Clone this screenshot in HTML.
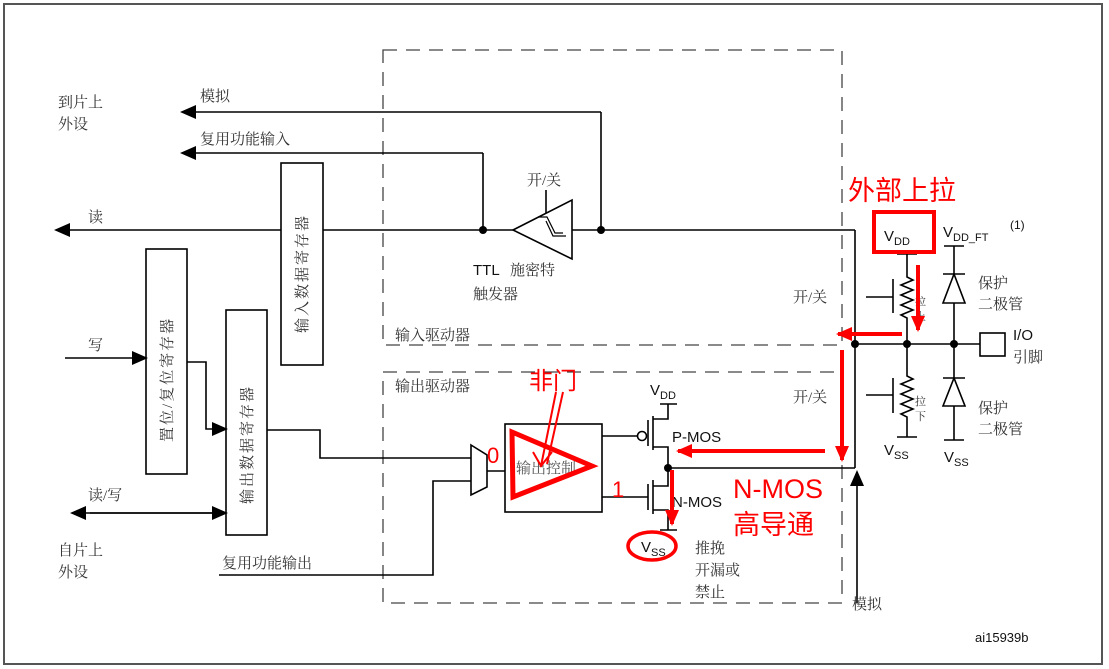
<!DOCTYPE html>
<html><head><meta charset="utf-8"><style>
html,body{margin:0;padding:0;background:#fff;}
svg{display:block;}
text{font-family:"Liberation Sans","Noto Sans CJK SC",sans-serif;}
.cn{font-family:"Liberation Serif","Noto Serif CJK SC",serif;font-size:15px;fill:#333;}
.lb{font-size:15px;fill:#111;}
.rd{font-family:"Liberation Sans","Noto Sans CJK SC",sans-serif;fill:#f00;}
</style></head><body>
<svg width="1109" height="669" viewBox="0 0 1109 669" xmlns="http://www.w3.org/2000/svg">
<defs>
<marker id="ah" markerWidth="10" markerHeight="10" refX="9" refY="5" orient="auto" markerUnits="userSpaceOnUse"><path d="M0,0 L10,5 L0,10 Z" fill="#000"/></marker>
<marker id="ahl" markerWidth="16" markerHeight="14" refX="14" refY="7" orient="auto" markerUnits="userSpaceOnUse"><path d="M0,0 L16,7 L0,14 Z" fill="#000"/></marker>
<marker id="ra" markerWidth="16" markerHeight="14" refX="14" refY="7" orient="auto" markerUnits="userSpaceOnUse"><path d="M0,0 L16,7 L0,14 Z" fill="#f00"/></marker>
</defs>
<rect x="4" y="4" width="1098" height="660" fill="none" stroke="#555" stroke-width="2"/>

<g fill="none" stroke="#444" stroke-width="1.3" stroke-dasharray="14,9">
<path d="M383,50 H842 V345 H383 Z"/>
<path d="M383,372 H842 V603 H383 Z"/>
</g>

<g stroke="#000" stroke-width="1.6" fill="none">
<line x1="601" y1="112" x2="182" y2="112" marker-end="url(#ahl)"/>
<line x1="601" y1="112" x2="601" y2="230"/>
<line x1="483" y1="153" x2="182" y2="153" marker-end="url(#ahl)"/>
<line x1="483" y1="153" x2="483" y2="230"/>
<line x1="855" y1="230" x2="572" y2="230"/>
<line x1="513" y1="230" x2="56" y2="230" marker-end="url(#ahl)"/>
<line x1="855" y1="230" x2="855" y2="468"/>
<path d="M513,230 L572,200 L572,259 Z" fill="#fff"/>
<line x1="546" y1="190" x2="546" y2="213"/>
<path d="M538,217 L547,217 L555,233 L563,233" stroke-width="1.2"/>
<path d="M546,221 L553,236 L566,236" stroke-width="1.2"/>
<rect x="281" y="163" width="42" height="202" fill="#fff"/>
<rect x="146" y="249" width="41" height="225" fill="#fff"/>
<rect x="226" y="310" width="41" height="225" fill="#fff"/>
<line x1="65" y1="358" x2="146" y2="358" marker-end="url(#ahl)"/>
<path d="M187,362 H206 V429 H226" marker-end="url(#ahl)"/>
<line x1="90" y1="513" x2="226" y2="513" marker-end="url(#ahl)"/>
<line x1="226" y1="513" x2="72" y2="513" marker-end="url(#ahl)"/>
<path d="M267,430 H320 V458 H471"/>
<path d="M219,575 H433 V481 H471"/>
<path d="M471,445 L487,455 L487,487 L471,495 Z" fill="#fff"/>
<line x1="487" y1="471" x2="505" y2="471"/>
<rect x="505" y="424" width="97" height="88" fill="#fff"/>
<line x1="602" y1="436" x2="637" y2="436"/>
<circle cx="642" cy="436" r="4.5" fill="#fff"/>
<line x1="648" y1="420" x2="648" y2="446"/>
<line x1="653" y1="416" x2="653" y2="450"/>
<path d="M653,419 H668 V404"/>
<line x1="660" y1="404" x2="677" y2="404"/>
<path d="M653,447 H668 V468"/>
<line x1="602" y1="497" x2="648" y2="497"/>
<line x1="648" y1="484" x2="648" y2="510"/>
<line x1="653" y1="480" x2="653" y2="514"/>
<path d="M668,468 V486 H653"/>
<path d="M653,510 H668 V530"/>
<line x1="660" y1="530" x2="677" y2="530"/>
<line x1="668" y1="468" x2="855" y2="468"/>
<line x1="857" y1="603" x2="857" y2="472" marker-end="url(#ahl)"/>
<line x1="855" y1="344" x2="980" y2="344"/>
<rect x="980" y="333" width="25" height="23" fill="#fff"/>
<line x1="897" y1="254" x2="917" y2="254"/>
<path d="M907,254 V277 l6,3 l-12,5 l12,5 l-12,5 l12,5 l-12,5 l12,5 l-12,5 l6,3 V344"/>
<line x1="893" y1="279" x2="893" y2="313"/>
<line x1="866" y1="297" x2="893" y2="297"/>
<path d="M907,344 V376 l6,3 l-12,5 l12,5 l-12,5 l12,5 l-12,5 l12,5 l-12,5 l6,3 V437"/>
<line x1="897" y1="437" x2="917" y2="437"/>
<line x1="893" y1="378" x2="893" y2="413"/>
<line x1="866" y1="395" x2="893" y2="395"/>
<line x1="944" y1="246" x2="964" y2="246"/>
<line x1="954" y1="246" x2="954" y2="440"/>
<line x1="943" y1="274" x2="965" y2="274"/>
<path d="M954,274 L943,303 L965,303 Z" fill="#fff"/>
<line x1="943" y1="378" x2="965" y2="378"/>
<path d="M954,378 L943,406 L965,406 Z" fill="#fff"/>
<line x1="944" y1="440" x2="964" y2="440"/>
</g>
<g fill="#000">
<circle cx="601" cy="230" r="4"/><circle cx="483" cy="230" r="4"/>
<circle cx="855" cy="344" r="4"/><circle cx="907" cy="344" r="4"/><circle cx="954" cy="344" r="4"/>
<circle cx="668" cy="468" r="4"/>
</g>

<text class="cn" x="58" y="107">到片上</text>
<text class="cn" x="58" y="129">外设</text>
<text class="cn" x="200" y="101">模拟</text>
<text class="cn" x="200" y="144">复用功能输入</text>
<text class="cn" x="88" y="222">读</text>
<text class="cn" x="88" y="350">写</text>
<text class="cn" x="88" y="500">读/写</text>
<text class="cn" x="58" y="555">自片上</text>
<text class="cn" x="58" y="577">外设</text>
<text class="cn" x="222" y="568">复用功能输出</text>
<text class="cn" transform="translate(307,333) rotate(-90)" style="letter-spacing:2px">输入数据寄存器</text>
<text class="cn" transform="translate(172,442) rotate(-90)" style="letter-spacing:2px">置位/复位寄存器</text>
<text class="cn" transform="translate(252,504) rotate(-90)" style="letter-spacing:2px">输出数据寄存器</text>
<text class="cn" x="527" y="185">开/关</text>
<text class="lb" x="473" y="275">TTL</text>
<text class="cn" x="510" y="275">施密特</text>
<text class="cn" x="473" y="299">触发器</text>
<text class="cn" x="395" y="340">输入驱动器</text>
<text class="cn" x="395" y="391">输出驱动器</text>
<text class="cn" x="516" y="473" style="fill:#555">输出控制</text>
<text class="lb" x="650" y="395">V<tspan font-size="11" dy="4">DD</tspan></text>
<text class="lb" x="672" y="442">P-MOS</text>
<text class="lb" x="672" y="507">N-MOS</text>
<text class="lb" x="641" y="552">V<tspan font-size="11" dy="4">SS</tspan></text>
<text class="cn" x="695" y="553">推挽</text>
<text class="cn" x="695" y="575">开漏或</text>
<text class="cn" x="695" y="597">禁止</text>
<text class="cn" x="852" y="609">模拟</text>
<text class="cn" x="793" y="302">开/关</text>
<text class="cn" x="793" y="402">开/关</text>
<text class="cn" x="915" y="305" style="font-size:11px">拉</text>
<text class="cn" x="915" y="320" style="font-size:11px">上</text>
<text class="cn" x="915" y="405" style="font-size:11px">拉</text>
<text class="cn" x="915" y="420" style="font-size:11px">下</text>
<text class="lb" x="884" y="241">V<tspan font-size="11" dy="4">DD</tspan></text>
<text class="lb" x="943" y="237">V<tspan font-size="11" dy="4">DD_FT</tspan></text>
<text class="lb" x="1010" y="229" style="font-size:12px">(1)</text>
<text class="cn" x="978" y="288">保护</text>
<text class="cn" x="978" y="309">二极管</text>
<text class="cn" x="978" y="413">保护</text>
<text class="cn" x="978" y="434">二极管</text>
<text class="lb" x="1013" y="340">I/O</text>
<text class="cn" x="1013" y="362">引脚</text>
<text class="lb" x="884" y="455">V<tspan font-size="11" dy="4">SS</tspan></text>
<text class="lb" x="944" y="462">V<tspan font-size="11" dy="4">SS</tspan></text>
<text class="lb" x="975" y="642" style="font-size:13px">ai15939b</text>

<g stroke="#f00" fill="none">
<rect x="874" y="212" width="60" height="40" stroke-width="4"/>
<ellipse cx="652" cy="546" rx="24" ry="14" stroke-width="3.5"/>
<path d="M512,432 L592,466 L513,497 Z" stroke-width="5" stroke-linejoin="miter"/>
<path d="M556,392 L541,466 M563,392 L547,464 M533,452 L541,466 L552,452" stroke-width="2"/>
<line x1="902" y1="334" x2="838" y2="334" stroke-width="4" marker-end="url(#ra)"/>
<line x1="918" y1="265" x2="918" y2="330" stroke-width="4" marker-end="url(#ra)"/>
<line x1="842" y1="350" x2="842" y2="460" stroke-width="4" marker-end="url(#ra)"/>
<line x1="825" y1="451" x2="678" y2="451" stroke-width="4" marker-end="url(#ra)"/>
<line x1="672" y1="470" x2="672" y2="524" stroke-width="4" marker-end="url(#ra)"/>
</g>
<text class="rd" x="848" y="200" style="font-size:27px">外部上拉</text>
<text class="rd" x="529" y="389" style="font-size:24px">非门</text>
<text class="rd" x="487" y="463" style="font-size:22px">0</text>
<text class="rd" x="612" y="497" style="font-size:22px">1</text>
<text class="rd" x="733" y="498" style="font-size:27px">N-MOS</text>
<text class="rd" x="733" y="534" style="font-size:27px">高导通</text>
</svg>
</body></html>
